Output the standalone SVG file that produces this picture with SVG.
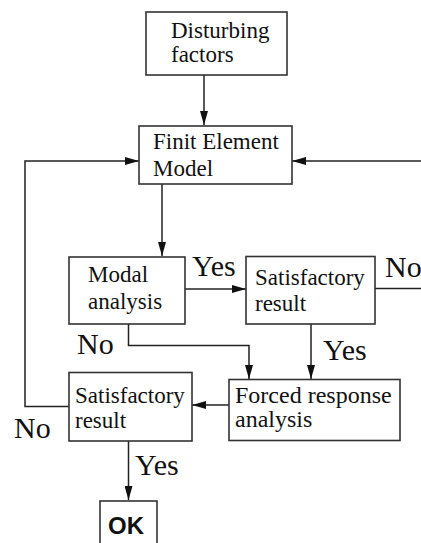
<svg xmlns="http://www.w3.org/2000/svg" width="421" height="543" viewBox="0 0 421 543">
<style>
.box{fill:#fff;stroke:#333;stroke-width:1.6}
.t{font-family:"Liberation Serif","Times New Roman",serif;font-size:23px;fill:#111}
.tl{font-size:24px}
.lbl{font-family:"Liberation Serif","Times New Roman",serif;font-size:30px;fill:#111}
.ok{font-family:"Liberation Sans",Arial,sans-serif;font-size:24px;font-weight:bold;fill:#111}
.c{fill:none;stroke:#222;stroke-width:1.5}
</style>
<defs>
<marker id="ah" viewBox="0 0 14 8" refX="14" refY="4" markerWidth="14" markerHeight="8" markerUnits="userSpaceOnUse" orient="auto">
<path d="M0,0 L14,4 L0,8 Z" fill="#111"/>
</marker>
</defs>
<rect width="421" height="543" fill="#fff"/>
<g id="connectors">
<path class="c" d="M204,75 V125" marker-end="url(#ah)"/>
<path class="c" d="M69,406.5 H25 V161 H139" marker-end="url(#ah)"/>
<path class="c" d="M421,161 H292" marker-end="url(#ah)"/>
<path class="c" d="M162,184 V256" marker-end="url(#ah)"/>
<path class="c" d="M185,289 H246" marker-end="url(#ah)"/>
<path class="c" d="M375,288.5 H421"/>
<path class="c" d="M128.5,324 V345.5 H249 V379" marker-end="url(#ah)"/>
<path class="c" d="M311,324 V379" marker-end="url(#ah)"/>
<path class="c" d="M229,405 H192" marker-end="url(#ah)"/>
<path class="c" d="M128.5,441 V500" marker-end="url(#ah)"/>
</g>
<g id="disturbing">
<rect class="box" x="146" y="12" width="141" height="63"/>
<text class="t" x="171" y="38">Disturbing</text>
<text class="t" x="171" y="62">factors</text>
</g>
<g id="fem">
<rect class="box" x="139" y="126" width="153" height="58"/>
<text class="t" x="153" y="149">Finit Element</text>
<text class="t" x="153" y="176">Model</text>
</g>
<g id="modal">
<rect class="box" x="69" y="257" width="116" height="67"/>
<text class="t" x="88" y="282">Modal</text>
<text class="t" x="88" y="309">analysis</text>
</g>
<g id="sat1">
<rect class="box" x="246" y="256.5" width="129" height="67.5"/>
<text class="t" x="255" y="285">Satisfactory</text>
<text class="t" x="255" y="311">result</text>
</g>
<g id="forced">
<rect class="box" x="229" y="379.5" width="171" height="61"/>
<text class="t tl" x="235" y="403">Forced response</text>
<text class="t tl" x="235" y="427">analysis</text>
</g>
<g id="sat2">
<rect class="box" x="69" y="372.5" width="123" height="68.5"/>
<text class="t" x="75" y="403">Satisfactory</text>
<text class="t" x="75" y="428">result</text>
</g>
<g id="okbox">
<rect class="box" x="100" y="501" width="57" height="50"/>
<text class="ok" x="108" y="534">OK</text>
</g>
<g id="labels">
<text class="lbl" x="192" y="276">Yes</text>
<text class="lbl" x="385" y="277">No</text>
<text class="lbl" x="77" y="354">No</text>
<text class="lbl" x="323" y="360">Yes</text>
<text class="lbl" x="14" y="438">No</text>
<text class="lbl" x="135" y="475">Yes</text>
</g>
</svg>
